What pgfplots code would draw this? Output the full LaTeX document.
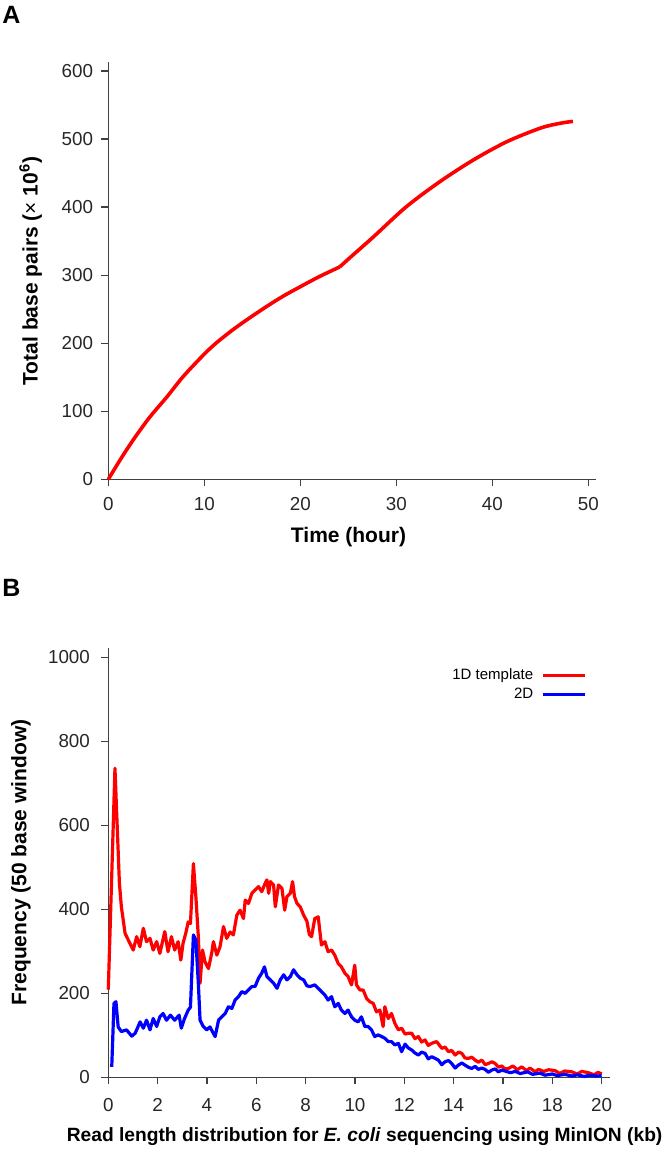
\documentclass[border=0pt]{standalone}
\usepackage{pgfplots}
\pgfplotsset{compat=1.18}
\usepackage{fontspec}
\setmainfont{Liberation Sans}

\pgfplotstableread{
x y
0 0
1.3 30
2.6 58
4.3 91
6.1 121
7.8 151
10 184
11.3 201
13 220
14.8 238
16.5 254
18.2 269
20 283
22 298
24.1 312
}\tablecumA

\pgfplotstableread{
x y
24.1 312
25.2 326
27.6 356
31 400
34.5 437
38 469
41.5 496
45 516
47 523
48.4 526
}\tablecumB

\pgfplotstableread{
x y
0 209
0.27 736
0.45 462
0.53 406
0.68 343
0.81 327
1.01 303
1.15 335
1.28 311
1.42 355
1.55 323
1.69 331
1.82 303
1.96 323
2.09 295
2.29 347
2.42 299
2.56 335
2.69 303
2.83 323
2.94 279
3.03 319
3.14 343
3.24 370
3.33 366
3.45 509
3.55 430
3.65 335
3.72 224
3.82 303
3.92 275
4.06 259
4.19 295
4.26 323
4.40 291
4.53 311
4.67 359
4.80 331
4.94 346
5.07 339
5.21 386
5.34 398
5.48 378
5.55 422
5.68 414
5.82 438
5.95 446
6.09 454
6.22 442
6.36 462
6.43 470
6.50 438
6.57 466
6.70 458
6.77 406
6.90 458
7.04 450
7.15 398
7.24 430
7.38 438
7.47 466
7.55 430
7.65 414
7.78 406
7.92 386
8.05 372
8.15 340
8.24 335
8.37 378
8.51 382
8.64 315
8.78 323
8.91 299
9.05 303
9.18 291
9.32 271
9.45 263
9.59 248
9.72 240
9.86 220
9.99 267
10.06 220
10.20 208
10.33 208
10.47 188
10.60 180
10.74 176
10.87 156
11.01 160
11.14 121
11.21 168
11.35 140
11.48 152
11.62 128
11.76 113
11.89 117
12.03 103
12.16 105
12.30 105
12.43 92
12.57 97
12.70 84
12.84 89
12.97 76
13.11 81
13.31 85
13.52 69
13.65 72
13.79 61
13.92 64
14.06 53
14.20 60
14.33 57
14.46 46
14.60 45
14.73 48
14.87 41
15.00 36
15.14 41
15.28 30
15.41 33
15.55 37
15.68 33
15.82 24
15.95 27
16.08 20
16.22 21
16.40 27
16.58 18
16.76 25
16.95 16
17.10 22
17.30 13
17.44 19
17.65 14
17.85 18
18.11 16
18.30 9
18.50 15
18.79 13
19.00 8
19.20 14
19.46 11
19.70 6
19.85 12
20.00 8
}\tablered

\pgfplotstableread{
x y
0.14 25
0.23 176
0.31 180
0.40 120
0.53 109
0.74 113
0.95 98
1.09 105
1.29 132
1.42 117
1.55 136
1.69 113
1.82 140
1.96 121
2.09 144
2.22 152
2.36 136
2.52 148
2.69 136
2.87 148
2.96 117
3.09 140
3.24 160
3.33 167
3.45 339
3.55 327
3.65 224
3.72 136
3.85 121
3.99 113
4.12 120
4.33 97
4.47 136
4.60 144
4.74 152
4.87 168
5.01 164
5.14 184
5.28 192
5.41 204
5.55 200
5.68 208
5.82 216
5.95 216
6.09 236
6.22 248
6.33 263
6.43 240
6.57 232
6.70 224
6.84 212
6.97 232
7.11 244
7.24 232
7.38 240
7.51 256
7.65 244
7.78 236
7.92 232
8.05 218
8.17 216
8.37 220
8.58 208
8.78 196
8.91 184
9.05 192
9.18 168
9.32 176
9.45 160
9.59 152
9.72 160
9.86 144
9.99 136
10.13 132
10.26 144
10.40 121
10.53 121
10.67 113
10.80 97
10.94 101
11.08 97
11.21 93
11.35 85
11.48 85
11.62 77
11.76 81
11.89 61
12.03 79
12.16 70
12.30 65
12.43 58
12.57 53
12.70 60
12.84 57
12.97 44
13.11 49
13.25 45
13.38 41
13.52 30
13.65 37
13.79 40
13.92 33
14.06 22
14.19 29
14.33 34
14.46 29
14.60 24
14.73 21
14.87 26
15.00 19
15.14 22
15.27 19
15.41 12
15.54 17
15.68 20
15.81 13
15.95 17
16.08 15
16.30 11
16.50 14
16.70 9
17.00 13
17.20 7
17.50 10
17.70 5
18.00 8
18.20 4
18.50 7
18.80 3
19.00 6
19.30 2
19.50 5
19.80 3
20.00 4
}\tableblue

\begin{document}
\begin{tikzpicture}
\path[use as bounding box] (-54.15pt,-345.35pt) rectangle (280.35pt,239.65pt);
\pgfplotsset{
  myaxis/.style={
    scale only axis,
    axis lines=middle,
    axis line style={-, line width=0.6pt, color=black!75},
    every tick/.style={line width=0.6pt, color=black!75},
    tick align=outside,
    major tick length=3.5pt,
    hide obscured x ticks=false,
    hide obscured y ticks=false,
    /pgf/number format/assume math mode=true,
    /pgf/number format/1000 sep={},
    tick label style={font=\fontsize{9.4}{11}\selectfont, text=black!85, inner sep=0pt},
    clip=false,
    anchor=origin,
  }
}
\begin{axis}[myaxis, at={(0pt,0pt)},
  width=247.9pt, height=208.4pt,
  xmin=-0.8, xmax=50.85, ymin=0, ymax=612.5,
  xtick={0,10,...,50}, ytick={0,100,...,600},
  xticklabel style={anchor=center, yshift=-8.65pt},
  yticklabel style={anchor=east, xshift=-3.9pt},
  xlabel={Time (hour)},
  ylabel={Total base pairs ({\mdseries ×} 10\textsuperscript{6})},
  every axis x label/.style={at={(axis description cs:0.5,0)}, anchor=center, yshift=-29.1pt,
    font=\bfseries\fontsize{10.5}{12}\selectfont},
  every axis y label/.style={at={(axis description cs:0,0.5)}, xshift=-35pt, anchor=center, rotate=90,
    font=\bfseries\fontsize{10.5}{12}\selectfont},
]
\addplot[color=red, line width=1.8pt, smooth, tension=0.5] table[x=x,y=y] {\tablecumA};
\addplot[color=red, line width=1.8pt, smooth, tension=0.5] table[x=x,y=y] {\tablecumB};
\end{axis}

\node[font=\bfseries\fontsize{12.5}{14}\selectfont, inner sep=0pt] at (-48.4pt,232.4pt) {A};
\node[font=\bfseries\fontsize{12.5}{14}\selectfont, inner sep=0pt] at (-48.4pt,-54.35pt) {B};

\begin{axis}[myaxis, at={(0pt,-299pt)},
  width=254.7pt, height=214.8pt,
  xmin=-0.3, xmax=20.35, ymin=0, ymax=1023,
  xtick={0,2,...,20}, ytick={0,200,...,1000},
  xticklabel style={anchor=center, yshift=-10.2pt},
  yticklabel style={anchor=east, xshift=-5.5pt},
  xlabel={Read length distribution for \textit{E. coli} sequencing using MinION (kb)},
  ylabel={Frequency (50 base window)},
  every axis x label/.style={at={(axis cs:10.39,0)}, anchor=center, yshift=-29.85pt,
    font=\bfseries\fontsize{9.6}{11}\selectfont},
  every axis y label/.style={at={(axis description cs:0,0.5)}, xshift=-40pt, anchor=center, rotate=90,
    font=\bfseries\fontsize{10.5}{12}\selectfont},
  legend plot pos=right,
  legend cell align=right,
  legend image code/.code={\draw[#1] (0pt,0pt) -- (21.25pt,0pt);},
  legend style={at={(axis cs:19.42,935)}, anchor=east, draw=none, fill=none,
    inner sep=0pt, row sep=0.5pt, column sep=3pt,
    font=\fontsize{7.5}{9}\selectfont,
    nodes={inner sep=1pt, text height=5.5pt, text depth=1.5pt}},
]
\addplot[color=red, line width=1.6pt, line join=round] table[x=x,y=y] {\tablered};
\addlegendentry{1D template}
\addplot[color=blue, line width=1.6pt, line join=round] table[x=x,y=y] {\tableblue};
\addlegendentry{2D}
\end{axis}
\end{tikzpicture}
\end{document}
